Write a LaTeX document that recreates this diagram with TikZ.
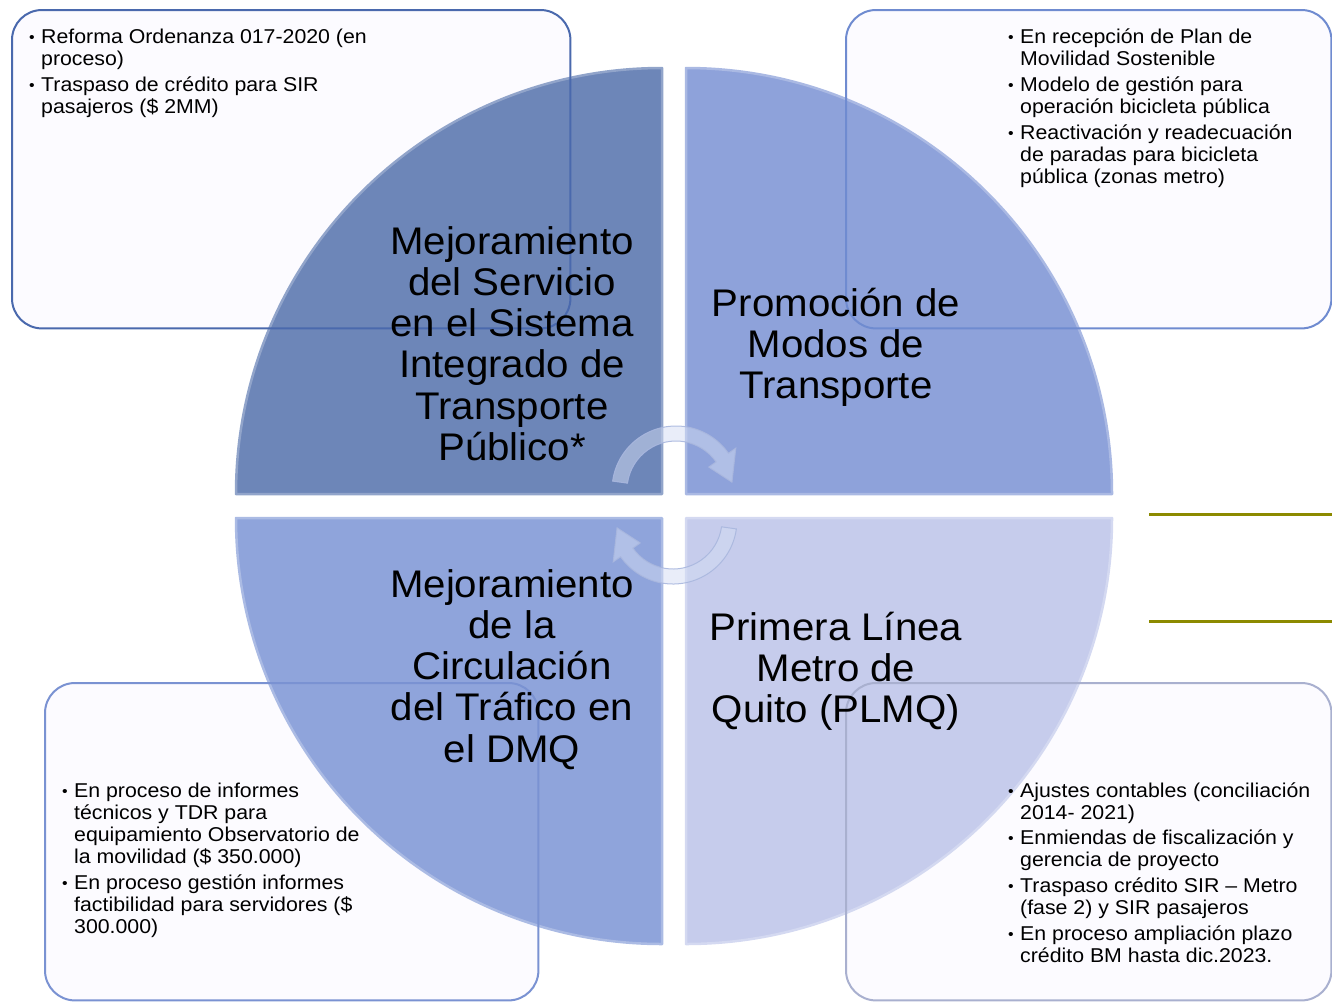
\documentclass[tikz,border=0pt]{standalone}
\usepackage{fontspec}
\setmainfont{Liberation Sans}
\newfontfamily\smallfam{Liberation Sans}[FakeStretch=1.065]
\newfontfamily\bigfam{Liberation Sans}[FakeStretch=1.045]
\usetikzlibrary{positioning}
\definecolor{qtl}{HTML}{6D86B8}
\definecolor{qtr}{HTML}{8EA2DA}
\definecolor{qbl}{HTML}{8FA4DB}
\definecolor{qbr}{HTML}{C6CCEC}
\definecolor{boxfill}{HTML}{FCFBFF}
\definecolor{tlframe}{HTML}{4A69AD}
\definecolor{trframe}{HTML}{6F8BD0}
\definecolor{blframe}{HTML}{7A92D2}
\definecolor{brframe}{HTML}{A9B0CF}
\definecolor{arrowfill}{HTML}{D3DCF3}
\definecolor{arrowedge}{HTML}{A9B7DE}
\definecolor{olivebar}{HTML}{8C8A00}
\newcommand{\biglab}{\bigfam\fontsize{38.5}{41.3}\selectfont}
\newcommand{\smalltxt}{\smallfam\fontsize{20}{22}\selectfont}
\newcommand{\bul}{\raisebox{0.5pt}{\fontsize{15}{15}\selectfont\textbullet}}
\begin{document}
\begin{tikzpicture}[x=1pt, y=1pt, font=\smalltxt, note/.style={fill=boxfill, rounded corners=30pt, inner sep=0pt, anchor=north west}, frame/.style={line width=2pt, rounded corners=30pt}, quad/.style={line width=2.5pt, line join=round}, lab/.style={font=\biglab, inner sep=0pt, anchor=base}, items/.style={inner sep=0pt, anchor=base west}, cyclearrow/.style={fill=arrowfill, fill opacity=0.5, draw=arrowedge, draw opacity=0.9, line width=1pt}, bar/.style={draw=olivebar, line width=3pt}]
\useasboundingbox (0,0) rectangle (1332,-1002);
\node[note, minimum width=558pt, minimum height=318pt] (tlbox) at (12,-10) {};
\node[note, minimum width=485pt, minimum height=318pt] (trbox) at (846,-10) {};
\node[note, minimum width=493pt, minimum height=317pt] (blbox) at (45,-683) {};
\node[note, minimum width=485pt, minimum height=317pt] (brbox) at (846,-683) {};
\coordinate (otl) at (662,-494); \coordinate (otr) at (686,-494); \coordinate (obl) at (662,-518); \coordinate (obr) at (686,-518);
\filldraw[quad, fill=qtl, draw=qtl!75!white] (otl) -- ++(-426,0) arc[start angle=180, end angle=90, radius=426pt] -- cycle;
\filldraw[quad, fill=qtr, draw=qtr!75!white] (otr) -- ++(0,426) arc[start angle=90, end angle=0, radius=426pt] -- cycle;
\filldraw[quad, fill=qbl, draw=qbl!75!white] (obl) -- ++(0,-426) arc[start angle=270, end angle=180, radius=426pt] -- cycle;
\filldraw[quad, fill=qbr, draw=qbr!75!white] (obr) -- ++(426,0) arc[start angle=0, end angle=-90, radius=426pt] -- cycle;
\draw[frame, draw=tlframe] (tlbox.south west) rectangle (tlbox.north east);
\draw[frame, draw=trframe] (trbox.south west) rectangle (trbox.north east);
\draw[frame, draw=blframe] (blbox.south west) rectangle (blbox.north east);
\draw[frame, draw=brframe] (brbox.south west) rectangle (brbox.north east);
\coordinate (ucen) at (676,-490); \coordinate (lcen) at (673,-520);
\filldraw[cyclearrow, shift={(ucen)}] (172:64pt) arc[start angle=172, end angle=35, radius=64pt] -- (35:73pt) -- (8:56.5pt) -- (35:40pt) -- (35:49pt) arc[start angle=35, end angle=172, radius=49pt] -- cycle;
\filldraw[cyclearrow, shift={(lcen)}, rotate=180] (172:64pt) arc[start angle=172, end angle=35, radius=64pt] -- (35:73pt) -- (8:56.5pt) -- (35:40pt) -- (35:49pt) arc[start angle=35, end angle=172, radius=49pt] -- cycle;
\node[lab] (tllab) at (512,-254) {\begin{tabular}[t]{@{}c@{}}Mejoramiento\\del Servicio\\en el Sistema\\Integrado de\\Transporte\\Público*\end{tabular}};
\node[lab] (trlab) at (836,-316) {\begin{tabular}[t]{@{}c@{}}Promoción de\\Modos de\\Transporte\end{tabular}};
\node[lab] (bllab) at (512,-597) {\begin{tabular}[t]{@{}c@{}}Mejoramiento\\de la\\Circulación\\del Tráfico en\\el DMQ\end{tabular}};
\node[lab] (brlab) at (836,-640) {\begin{tabular}[t]{@{}c@{}}Primera Línea\\Metro de\\Quito (PLMQ)\end{tabular}};
\node[items] (tltxt) at (29,-43) {\begin{tabular}[t]{@{}p{12pt}@{}l@{}}\bul & Reforma Ordenanza 017-2020 (en\\ & proceso)\\[4pt] \bul & Traspaso de crédito para SIR\\ & pasajeros (\$ 2MM)\end{tabular}};
\node[items] (trtxt) at (1008,-43) {\begin{tabular}[t]{@{}p{12pt}@{}l@{}}\bul & En recepción de Plan de\\ & Movilidad Sostenible\\[4pt] \bul & Modelo de gestión para\\ & operación bicicleta pública\\[4pt] \bul & Reactivación y readecuación\\ & de paradas para bicicleta\\ & pública (zonas metro)\end{tabular}};
\node[items] (bltxt) at (62,-797) {\begin{tabular}[t]{@{}p{12pt}@{}l@{}}\bul & En proceso de informes\\ & técnicos y TDR para\\ & equipamiento Observatorio de\\ & la movilidad (\$ 350.000)\\[4pt] \bul & En proceso gestión informes\\ & factibilidad para servidores (\$\\ & 300.000)\end{tabular}};
\node[items] (brtxt) at (1008,-797) {\begin{tabular}[t]{@{}p{12pt}@{}l@{}}\bul & Ajustes contables (conciliación\\ & 2014- 2021)\\[3pt] \bul & Enmiendas de fiscalización y\\ & gerencia de proyecto\\[4pt] \bul & Traspaso crédito SIR – Metro\\ & (fase 2) y SIR pasajeros\\[4pt] \bul & En proceso ampliación plazo\\ & crédito BM hasta dic.2023.\end{tabular}};
\coordinate (bar1) at (1149,-514); \coordinate (bar2) at (1149,-621);
\draw[bar] (bar1) -- ++(183,0);
\draw[bar] (bar2) -- ++(183,0);
\end{tikzpicture}
\end{document}
